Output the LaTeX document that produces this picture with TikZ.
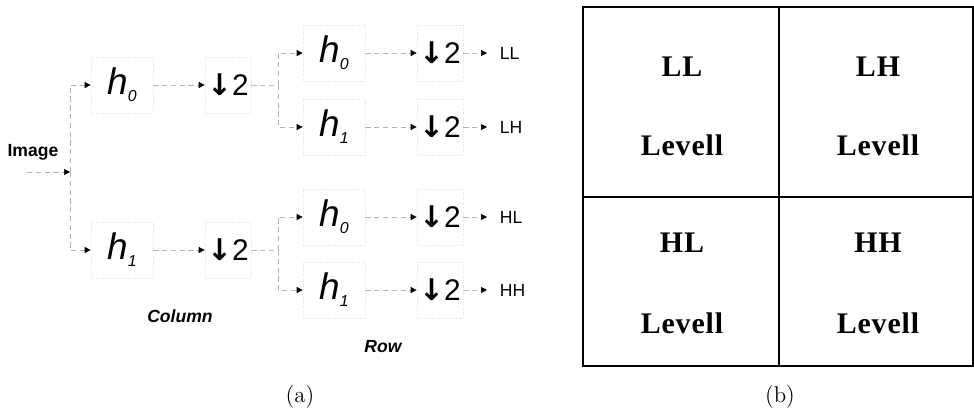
\documentclass[tikz,border=0pt]{standalone}
\usepackage{fontspec}
\setmainfont{Latin Modern Roman}
\setsansfont{Liberation Sans}
\newfontfamily\gridfont[LetterSpace=3.0]{Liberation Serif}
\newfontfamily\arrowfont{DejaVu Sans}
\usetikzlibrary{arrows.meta}
\newcommand\hsub[1]{\raisebox{-0.35ex}{\fontsize{9}{9}\selectfont #1}}

\begin{document}
\begin{tikzpicture}[
    hbox/.style={
        draw=gray!25,
        densely dotted,
        minimum width=1.24cm,
        minimum height=1.12cm,
        inner sep=0pt,
        font=\fontsize{21}{23}\sffamily\itshape
    },
    dbox/.style={
        draw=gray!25,
        densely dotted,
        minimum width=0.92cm,
        minimum height=1.12cm,
        inner sep=0pt,
        font=\fontsize{17}{19}\sffamily
    },
    band/.style={
        anchor=west,
        inner sep=0.25cm,
        font=\fontsize{10}{12}\sffamily
    },
    stage/.style={
        font=\fontsize{10}{12}\sffamily\bfseries\itshape
    },
    cell/.style={
        font=\fontsize{17}{19}\gridfont\bfseries
    },
    caption/.style={
        font=\fontsize{13}{15}\rmfamily
    },
    link/.style={
        draw=gray!60,
        densely dashed,
        -{Triangle[black,length=1.2mm,width=1.2mm]}
    }
]
\useasboundingbox (0,0) rectangle (19.48,-8.36);

\node[font=\fontsize{10}{12}\sffamily\bfseries] (image) at (0.66,-3.04) {Image};
\coordinate (imgtail) at (0.54,-3.44);
\coordinate (cbus) at (1.40,-3.44);

\node[hbox] (ch0) at (2.44,-1.70) {h\hsub{0}};
\node[hbox] (ch1) at (2.44,-5.00) {h\hsub{1}};
\node[dbox] (cd0) at (4.56,-1.70) {{\arrowfont\bfseries ↓}2};
\node[dbox] (cd1) at (4.56,-5.00) {{\arrowfont\bfseries ↓}2};
\coordinate (rbus0) at (5.56,-1.70);
\coordinate (rbus1) at (5.56,-5.00);

\node[hbox] (rh0) at (6.68,-1.06) {h\hsub{0}};
\node[hbox] (rh1) at (6.68,-2.54) {h\hsub{1}};
\node[hbox] (rh2) at (6.68,-4.34) {h\hsub{0}};
\node[hbox] (rh3) at (6.68,-5.80) {h\hsub{1}};
\node[dbox] (rd0) at (8.80,-1.06) {{\arrowfont\bfseries ↓}2};
\node[dbox] (rd1) at (8.80,-2.54) {{\arrowfont\bfseries ↓}2};
\node[dbox] (rd2) at (8.80,-4.34) {{\arrowfont\bfseries ↓}2};
\node[dbox] (rd3) at (8.80,-5.80) {{\arrowfont\bfseries ↓}2};

\node[band] (ll) at (9.74,-1.06) {LL};
\node[band] (lh) at (9.74,-2.54) {LH};
\node[band] (hl) at (9.74,-4.34) {HL};
\node[band] (hh) at (9.74,-5.80) {HH};

\node[stage] (column) at (3.60,-6.32) {Column};
\node[stage] (row) at (7.66,-6.94) {Row};
\node[caption] (capa) at (6.00,-7.94) {(a)};

\draw[link] (imgtail) -- (cbus);
\draw[link] (cbus) |- (ch0);
\draw[link] (cbus) |- (ch1);
\draw[link] (ch0) -- (cd0);
\draw[link] (ch1) -- (cd1);
\draw[draw=gray!50, densely dashed] (cd0) -- (rbus0);
\draw[draw=gray!50, densely dashed] (cd1) -- (rbus1);
\draw[link] (rbus0) |- (rh0);
\draw[link] (rbus0) |- (rh1);
\draw[link] (rbus1) |- (rh2);
\draw[link] (rbus1) |- (rh3);
\foreach \i/\o in {0/ll,1/lh,2/hl,3/hh}{
    \draw[link] (rh\i) -- (rd\i);
    \draw[link] (rd\i) -- (\o);
}

\draw[line width=0.8pt] (11.66,-0.14) rectangle (19.46,-7.32);
\draw[line width=0.8pt] (15.58,-0.14) -- (15.58,-7.32);
\draw[line width=0.8pt] (11.66,-3.94) -- (19.46,-3.94);

\node[cell] (llname) at (13.64,-1.34) {LL};
\node[cell] (lllevel) at (13.64,-2.90) {Levell};
\node[cell] (lhname) at (17.56,-1.34) {LH};
\node[cell] (lhlevel) at (17.56,-2.90) {Levell};
\node[cell] (hlname) at (13.64,-4.86) {HL};
\node[cell] (hllevel) at (13.64,-6.46) {Levell};
\node[cell] (hhname) at (17.56,-4.86) {HH};
\node[cell] (hhlevel) at (17.56,-6.46) {Levell};
\node[caption] (capb) at (15.60,-7.94) {(b)};

\end{tikzpicture}
\end{document}
